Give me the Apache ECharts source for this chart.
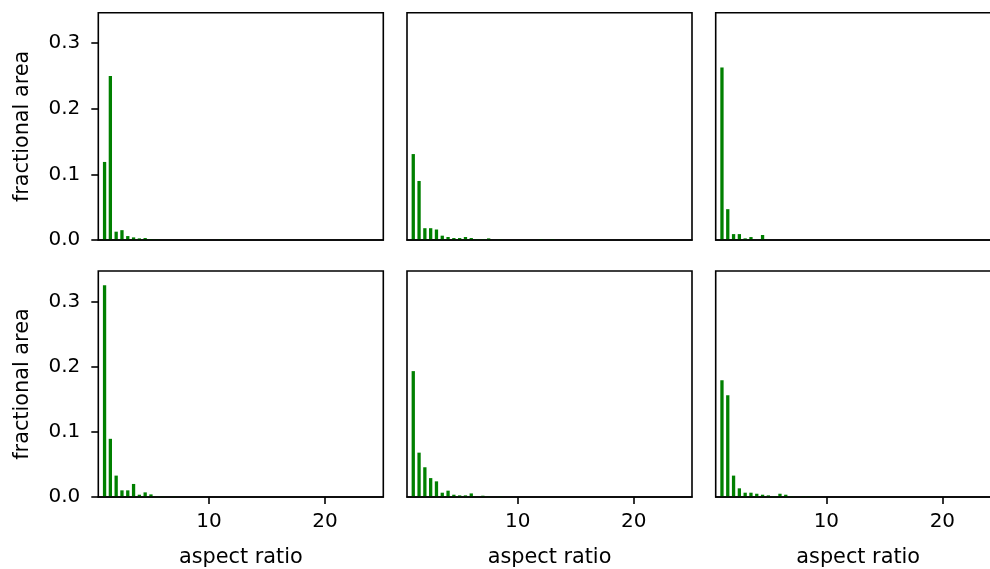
<!DOCTYPE html>
<html>
<head>
<meta charset="utf-8">
<script src="https://cdn.jsdelivr.net/npm/echarts@6/dist/echarts.min.js"></script>
<style>
  html, body { margin: 0; padding: 0; background: #fff; overflow: hidden; }
  #chart { width: 1010px; height: 569px; }
</style>
</head>
<body>
<div id="chart"></div>
<script>
// Histogram bin positions (aspect ratio)
const binCenters = [1.0, 1.5, 2.0, 2.5, 3.0, 3.5, 4.0, 4.5, 5.0, 5.5, 6.0, 6.5, 7.0,
                    7.5, 8.0, 8.5, 9.0, 9.5, 10.0, 10.5, 11.0, 11.5, 12.0, 12.5, 13.0];

// Fractional area per bin, one array per panel (row-major order)
const areaA = [0.119, 0.250, 0.0127, 0.015, 0.006, 0.004, 0.0025, 0.003, 0.0015, 0.001,
               0, 0, 0, 0, 0, 0, 0, 0, 0, 0, 0.001, 0, 0, 0, 0];
const areaB = [0.131, 0.090, 0.018, 0.018, 0.016, 0.0066, 0.0046, 0.003, 0.003, 0.0046,
               0.003, 0.0015, 0.0015, 0.0025, 0, 0.001, 0, 0, 0, 0, 0, 0, 0.0015, 0, 0.0015];
const areaC = [0.263, 0.047, 0.009, 0.009, 0.0025, 0.0045, 0, 0.0076, 0, 0,
               0, 0, 0, 0, 0, 0, 0, 0, 0, 0, 0, 0, 0, 0, 0];
const areaD = [0.3246, 0.0892, 0.0328, 0.0102, 0.0102, 0.020, 0.0035, 0.0071, 0.004, 0,
               0.0008, 0, 0.0008, 0, 0, 0, 0, 0, 0, 0, 0, 0, 0, 0, 0];
const areaE = [0.193, 0.068, 0.0456, 0.029, 0.024, 0.0066, 0.0097, 0.0035, 0.0025, 0.0025,
               0.0055, 0, 0.002, 0.001, 0, 0.001, 0, 0, 0, 0, 0, 0, 0, 0, 0];
const areaF = [0.179, 0.156, 0.0328, 0.0133, 0.0066, 0.0066, 0.005, 0.0035, 0.0025, 0.0015,
               0.005, 0.0035, 0.001, 0, 0.001, 0.001, 0, 0, 0, 0, 0, 0, 0, 0, 0];

// Axis tick labels
const xTicks = [10, 20];
const yTicks = [0, 0.1, 0.2, 0.3];

const panels = [areaA, areaB, areaC, areaD, areaE, areaF];

const FONT = 'DejaVu Sans';
const colLeft = [98.3, 407, 715.7];
const rowTop = [12.7, 271];
const panelW = 285;
const panelH = 227.3;

const grids = [], xAxes = [], yAxes = [], series = [];

panels.forEach((vals, i) => {
  const row = Math.floor(i / 3), col = i % 3;
  const bottomRow = row === 1, leftCol = col === 0;
  grids.push({
    left: colLeft[col], top: rowTop[row], width: panelW, height: panelH,
    show: true, borderColor: '#000', borderWidth: 1.6, backgroundColor: 'transparent'
  });
  xAxes.push({
    type: 'value', gridIndex: i, min: 0.46, max: 25.03, z: 5,
    splitLine: { show: false },
    axisLine: { show: true, onZero: false, lineStyle: { color: '#000', width: 1.6 } },
    axisTick: { show: bottomRow, customValues: xTicks, length: 7, lineStyle: { color: '#000', width: 1.6 } },
    axisLabel: { show: bottomRow, customValues: xTicks, margin: 15, color: '#000',
                 fontFamily: FONT, fontSize: 20 },
    name: bottomRow ? 'aspect ratio' : '', nameLocation: 'middle', nameGap: 50,
    nameTextStyle: { color: '#000', fontFamily: FONT, fontSize: 20.8 }
  });
  yAxes.push({
    type: 'value', gridIndex: i, min: 0, max: 0.3465,
    splitLine: { show: false },
    axisLine: { show: false },
    axisTick: { show: leftCol, customValues: yTicks, length: 7, lineStyle: { color: '#000', width: 1.6 } },
    axisLabel: { show: leftCol, customValues: yTicks, margin: 18, color: '#000',
                 fontFamily: FONT, fontSize: 20, formatter: v => v.toFixed(1) },
    name: leftCol ? 'fractional area' : '', nameLocation: 'middle', nameGap: 65, nameRotate: 90,
    nameTextStyle: { color: '#000', fontFamily: FONT, fontSize: 20.8 }
  });
  series.push({
    type: 'bar', xAxisIndex: i, yAxisIndex: i,
    barWidth: 3.3,
    itemStyle: { color: '#008000' },
    data: binCenters.map((x, k) => [x, vals[k]]).filter(d => d[1] > 0),
    animation: false
  });
});

const chart = echarts.init(document.getElementById('chart'), null, { renderer: 'canvas' });
chart.setOption({
  animation: false,
  backgroundColor: '#fff',
  grid: grids, xAxis: xAxes, yAxis: yAxes, series: series
});
</script>
</body>
</html>
